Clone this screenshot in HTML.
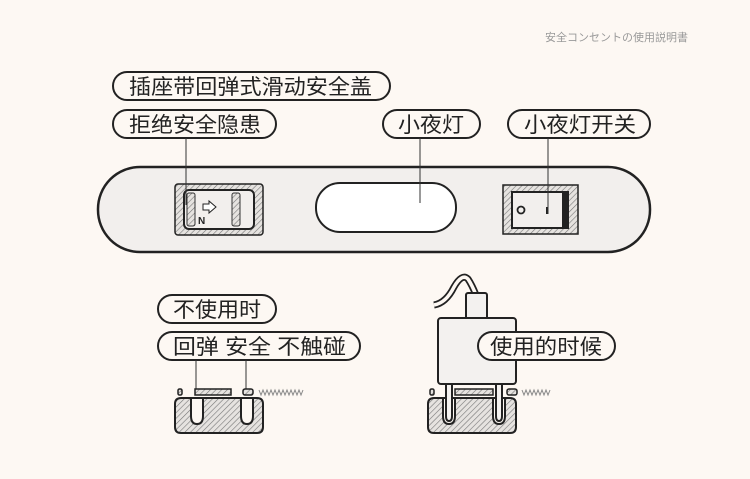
<!DOCTYPE html>
<html><head><meta charset="utf-8"><style>
html,body{margin:0;padding:0;background:#fdf8f3;}
svg{display:block}
text{font-family:"Liberation Sans","Noto Sans CJK SC",sans-serif;fill:#222}
</style></head><body>
<svg width="750" height="479" viewBox="0 0 750 479" xmlns="http://www.w3.org/2000/svg">
<defs>
<pattern id="h" width="4" height="4" patternUnits="userSpaceOnUse" patternTransform="rotate(45)">
<rect width="4" height="4" fill="#e6e3e0"/><line x1="0" y1="0" x2="0" y2="4" stroke="#777" stroke-width="1.2"/>
</pattern>
</defs>
<rect width="750" height="479" fill="#fdf8f3"/>
<text x="688" y="41" font-size="11" text-anchor="end" style="fill:#999">安全コンセントの使用説明書</text>

<g stroke="#222" stroke-width="2" fill="#fdf8f3">
<rect x="113" y="72" width="277" height="28" rx="14"/>
<rect x="113" y="110" width="163" height="28" rx="14"/>
<rect x="383" y="110" width="97" height="28" rx="14"/>
<rect x="508" y="110" width="142" height="28" rx="14"/>
</g>
<g font-size="21">
<text x="129" y="94" textLength="243" lengthAdjust="spacingAndGlyphs">插座带回弹式滑动安全盖</text>
<text x="129" y="132" textLength="132" lengthAdjust="spacingAndGlyphs">拒绝安全隐患</text>
<text x="398" y="132" textLength="66" lengthAdjust="spacingAndGlyphs">小夜灯</text>
<text x="524" y="132" textLength="112" lengthAdjust="spacingAndGlyphs">小夜灯开关</text>
</g>

<rect x="98" y="167" width="552" height="85" rx="42" fill="#f2efed" stroke="#222" stroke-width="2.5"/>
<rect x="175" y="184" width="88" height="51" rx="3" fill="url(#h)" stroke="#222" stroke-width="1.5"/>
<rect x="184" y="190" width="70" height="39" rx="5" fill="#f2efed" stroke="#222" stroke-width="2"/>
<rect x="187" y="193" width="8" height="33" rx="2" fill="url(#h)" stroke="#333" stroke-width="1"/>
<rect x="232" y="193" width="8" height="33" rx="2" fill="url(#h)" stroke="#333" stroke-width="1"/>
<path d="M203 204h6v-3l7 6-7 6v-3h-6z" fill="#fff" stroke="#222" stroke-width="1"/>
<text x="198" y="224" font-size="10" font-weight="bold">N</text>
<rect x="316" y="183" width="140" height="49" rx="24" fill="#fff" stroke="#222" stroke-width="2"/>
<rect x="503" y="185" width="75" height="49" fill="url(#h)" stroke="#222" stroke-width="1.5"/>
<rect x="512" y="192" width="56" height="36" fill="#f2efed" stroke="#222" stroke-width="2"/>
<rect x="562" y="192" width="6" height="36" fill="#222"/>
<circle cx="521" cy="210" r="3.5" fill="none" stroke="#222" stroke-width="1.8"/>
<line x1="547" y1="207" x2="547" y2="214" stroke="#222" stroke-width="2"/>
<g stroke="#333" stroke-width="1">
<line x1="186" y1="138" x2="186" y2="205"/>
<line x1="420" y1="138" x2="420" y2="203"/>
<line x1="548" y1="138" x2="548" y2="214"/>
</g>

<g stroke="#222" stroke-width="2" fill="#fdf8f3">
<rect x="158" y="295" width="118" height="28" rx="14"/>
<rect x="158" y="332" width="202" height="28" rx="14"/>
</g>
<g font-size="21">
<text x="173" y="317" textLength="88" lengthAdjust="spacingAndGlyphs">不使用时</text>
<text x="173" y="354" textLength="173" lengthAdjust="spacingAndGlyphs">回弹 安全 不触碰</text>
</g>
<g stroke="#333" stroke-width="1">
<line x1="196" y1="360" x2="196" y2="390"/>
<line x1="246" y1="360" x2="246" y2="390"/>
</g>
<path d="M175 404q0-6 6-6h76q6 0 6 6v23q0 6-6 6h-76q-6 0-6-6zM191 398v18q0 8 6 8q6 0 6-8v-18zM241 398v18q0 8 6 8q6 0 6-8v-18z" fill="url(#h)" fill-rule="evenodd" stroke="#222" stroke-width="2"/>
<g stroke="#222" stroke-width="1.5" fill="url(#h)">
<rect x="178" y="389" width="4" height="6" rx="1.5"/>
<rect x="195" y="389" width="36" height="6"/>
<rect x="243" y="389" width="10" height="6" rx="2"/>
</g>
<path d="M259 390 l2 5 l2-5 l2 5 l2-5 l2 5 l2-5 l2 5 l2-5 l2 5 l2-5 l2 5 l2-5 l2 5 l2-5 l2 5 l2-5 l2 5 l2-5 l2 5 l2-5 l2 5 l2-5" fill="none" stroke="#888" stroke-width="1"/>

<path d="M434 305q12-2 20-18q8-14 14-8q4 6 8 16" fill="none" stroke="#222" stroke-width="7"/>
<path d="M434 305q12-2 20-18q8-14 14-8q4 6 8 16" fill="none" stroke="#fdf8f3" stroke-width="3.5"/>
<path d="M428 404q0-6 6-6h76q6 0 6 6v23q0 6-6 6h-76q-6 0-6-6zM443 398v18q0 8 6 8q6 0 6-8v-18zM493 398v18q0 8 6 8q6 0 6-8v-18z" fill="url(#h)" fill-rule="evenodd" stroke="#222" stroke-width="2"/>
<g stroke="#222" stroke-width="1.5" fill="url(#h)">
<rect x="430" y="389" width="4" height="6" rx="1.5"/>
<rect x="455" y="389" width="38" height="6"/>
<rect x="507" y="389" width="10" height="6" rx="2"/>
</g>
<path d="M522 390 l2 5 l2-5 l2 5 l2-5 l2 5 l2-5 l2 5 l2-5 l2 5 l2-5 l2 5 l2-5 l2 5 l2-5" fill="none" stroke="#888" stroke-width="1"/>
<g stroke="#222" stroke-width="2" fill="#f3f1ef">
<path d="M446 384v32q0 5 3 5q3 0 3-5v-32"/>
<path d="M496 384v32q0 5 3 5q3 0 3-5v-32"/>
<rect x="466" y="293" width="21" height="26" rx="2"/>
<rect x="438" y="318" width="78" height="66" rx="3"/>
</g>
<rect x="478" y="332" width="137" height="28" rx="14" fill="#fdf8f3" stroke="#222" stroke-width="2"/>
<text x="490" y="354" font-size="21" textLength="112" lengthAdjust="spacingAndGlyphs">使用的时候</text>
</svg>
</body></html>
